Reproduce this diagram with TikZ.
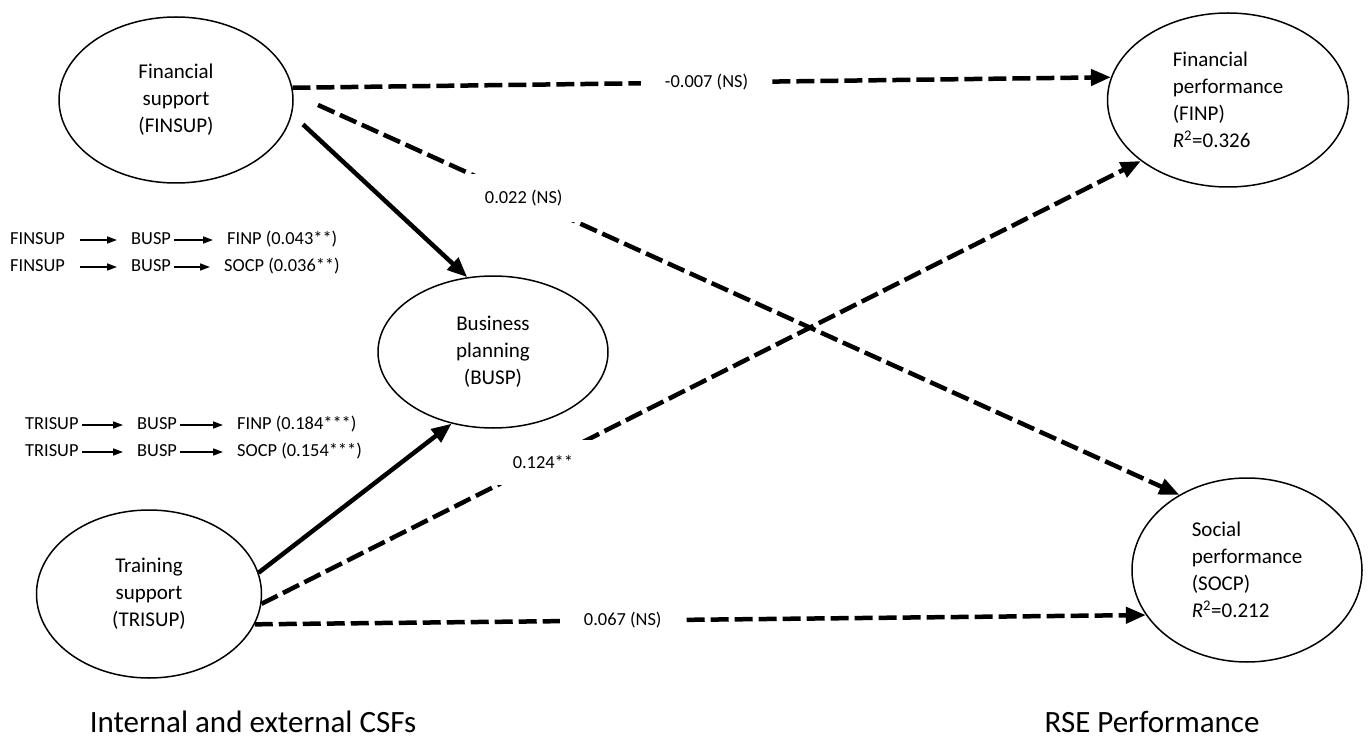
\documentclass[tikz,border=0pt]{standalone}
\usepackage{fontspec}
\setmainfont{Carlito}
\usetikzlibrary{shapes.geometric,arrows.meta}

\begin{document}
\begin{tikzpicture}[x=1pt,y=-1pt,
construct/.style={draw,ellipse,line width=1.5pt,inner sep=0pt,font=\fontsize{21}{27}\selectfont},
solidpath/.style={line width=4.5pt,-{Triangle[length=20pt,width=16pt]}},
nspath/.style={solidpath,dash pattern=on 18pt off 6pt},
coef/.style={fill=white,inner xsep=24pt,inner ysep=16pt,font=\fontsize{18.4}{22}\selectfont},
med/.style={anchor=west,inner sep=0pt,text height=12pt,text depth=4pt,font=\fontsize{18.4}{22}\selectfont},
medarrow/.style={line width=1.6pt,-{Triangle[length=10pt,width=7pt]},shorten >=14pt,shorten <=3pt},
side/.style={font=\fontsize{31}{37}\selectfont}]
\useasboundingbox(0,0)rectangle(1371,746);
\node[construct,minimum width=234pt,minimum height=166pt,align=center](finsup)at(176,100){Financial\\support\\(FINSUP)};
\node[construct,minimum width=230pt,minimum height=152pt,align=center](busp)at(493,352){Business\\planning\\(BUSP)};
\node[construct,minimum width=225pt,minimum height=168pt,align=center](trisup)at(149,594){Training\\support\\(TRISUP)};
\node[construct,minimum width=241pt,minimum height=174pt,align=left](finp)at(1228,100){Financial\\performance\\(FINP)\\\textit{R}\textsuperscript{2}=0.326};
\node[construct,minimum width=230pt,minimum height=184pt,align=left](socp)at(1247,570){Social\\performance\\(SOCP)\\\textit{R}\textsuperscript{2}=0.212};
\draw[nspath](finsup.6)--node[coef,pos=0.506]{-0.007 (NS)}(finp.169);
\draw[solidpath,shorten <=15pt](finsup.-7)--(busp.109);
\draw[nspath,shorten <=27pt](finsup.3)--node[coef,pos=0.26]{0.022 (NS)}(socp.132);
\draw[solidpath](trisup.11)--(busp.240);
\draw[nspath](trisup.-5)--node[coef,pos=0.32]{0.124**}(finp.215);
\draw[nspath](trisup.-16)--node[coef,pos=0.413]{0.067 (NS)}(socp.204);
\node[med](f1)at(10,240){FINSUP};
\node[med](b1)at(131,240){BUSP};
\node[med](p1)at(227,240){FINP (0.043**)};
\node[med](f2)at(10,267){FINSUP};
\node[med](b2)at(131,267){BUSP};
\node[med](p2)at(224,267){SOCP (0.036**)};
\node[med](t3)at(25,425){TRISUP};
\node[med](b3)at(137,425){BUSP};
\node[med](p3)at(237,425){FINP (0.184***)};
\node[med](t4)at(25,452){TRISUP};
\node[med](b4)at(137,452){BUSP};
\node[med](p4)at(237,452){SOCP (0.154***)};
\draw[medarrow,shorten <=15pt](f1)--(b1);
\draw[medarrow](b1)--(p1);
\draw[medarrow,shorten <=15pt](f2)--(b2);
\draw[medarrow](b2)--(p2);
\draw[medarrow](t3)--(b3);
\draw[medarrow](b3)--(p3);
\draw[medarrow](t4)--(b4);
\draw[medarrow](b4)--(p4);
\node[side](csf)at(253,722){Internal and external CSFs};
\node[side](rse)at(1152,722){RSE Performance};
\end{tikzpicture}
\end{document}
